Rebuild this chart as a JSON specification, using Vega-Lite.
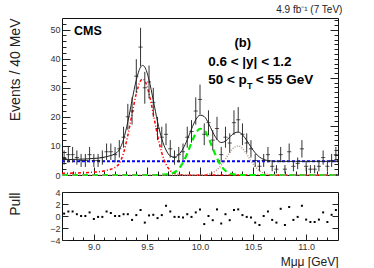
{
  "$schema": "https://vega.github.io/schema/vega-lite/v6.json",
  "background": "white",
  "padding": {"left": 7, "top": 4, "right": 5, "bottom": 0},
  "spacing": 6,
  "config": {
    "view": {"stroke": "#111", "strokeWidth": 1},
    "font": "Liberation Sans",
    "axis": {"domain": false, "grid": false, "labelFont": "Liberation Sans", "labelFontSize": 9, "labelColor": "#333", "tickColor": "#222", "titleFont": "Liberation Sans", "titleFontWeight": "normal", "titleColor": "#222"}
  },
  "datasets": {
    "bins": [
      {"m": 8.72, "n": 6, "err": 2.45, "pull": 0.4},
      {"m": 8.76, "n": 7, "err": 2.65, "pull": 0.75},
      {"m": 8.80, "n": 7, "err": 2.65, "pull": 0.75},
      {"m": 8.84, "n": 6, "err": 2.45, "pull": 0.3},
      {"m": 8.88, "n": 5, "err": 2.24, "pull": 0},
      {"m": 8.92, "n": 5, "err": 2.24, "pull": 0},
      {"m": 8.96, "n": 7, "err": 2.65, "pull": 0.6},
      {"m": 9.00, "n": 5, "err": 2.24, "pull": -0.5},
      {"m": 9.04, "n": 5, "err": 2.24, "pull": -0.15},
      {"m": 9.08, "n": 6, "err": 2.45, "pull": -0.15},
      {"m": 9.12, "n": 8, "err": 2.83, "pull": 0.75},
      {"m": 9.16, "n": 8, "err": 2.83, "pull": 0.5},
      {"m": 9.20, "n": 7, "err": 2.65, "pull": 0},
      {"m": 9.24, "n": 9, "err": 3.0, "pull": 0},
      {"m": 9.28, "n": 13, "err": 3.61, "pull": 0.3},
      {"m": 9.32, "n": 20, "err": 4.47, "pull": 0.3},
      {"m": 9.36, "n": 22, "err": 4.69, "pull": -0.65},
      {"m": 9.40, "n": 34, "err": 5.83, "pull": 0.15},
      {"m": 9.44, "n": 44, "err": 6.63, "pull": 1.0},
      {"m": 9.48, "n": 30, "err": 5.48, "pull": -1.1},
      {"m": 9.52, "n": 32, "err": 5.66, "pull": 0.1},
      {"m": 9.56, "n": 25, "err": 5.0, "pull": 0.2},
      {"m": 9.60, "n": 16, "err": 4.0, "pull": -0.35},
      {"m": 9.64, "n": 13, "err": 3.61, "pull": 0.15},
      {"m": 9.68, "n": 14, "err": 3.74, "pull": 1.7},
      {"m": 9.72, "n": 9, "err": 3.0, "pull": 0.75},
      {"m": 9.76, "n": 6, "err": 2.45, "pull": -0.15},
      {"m": 9.80, "n": 7, "err": 2.65, "pull": -0.15},
      {"m": 9.84, "n": 8, "err": 2.83, "pull": -0.25},
      {"m": 9.88, "n": 13, "err": 3.61, "pull": 0.3},
      {"m": 9.92, "n": 15, "err": 3.87, "pull": -0.15},
      {"m": 9.96, "n": 22, "err": 4.69, "pull": 0.6},
      {"m": 10.00, "n": 26, "err": 5.10, "pull": 1.1},
      {"m": 10.04, "n": 14, "err": 3.74, "pull": -1.35},
      {"m": 10.08, "n": 18, "err": 4.24, "pull": 0},
      {"m": 10.12, "n": 12, "err": 3.46, "pull": -0.7},
      {"m": 10.16, "n": 16, "err": 4.0, "pull": 1.1},
      {"m": 10.20, "n": 7, "err": 2.65, "pull": -1.25},
      {"m": 10.24, "n": 13, "err": 3.61, "pull": 0.3},
      {"m": 10.28, "n": 11, "err": 3.32, "pull": -0.7},
      {"m": 10.32, "n": 18, "err": 4.24, "pull": 1.0},
      {"m": 10.36, "n": 19, "err": 4.36, "pull": 1.1},
      {"m": 10.40, "n": 14, "err": 3.74, "pull": 0.15},
      {"m": 10.44, "n": 11, "err": 3.32, "pull": -0.15},
      {"m": 10.48, "n": 9, "err": 3.0, "pull": -0.25},
      {"m": 10.52, "n": 5, "err": 2.24, "pull": -1.1},
      {"m": 10.56, "n": 3, "err": 1.73, "pull": -1.5},
      {"m": 10.60, "n": 5, "err": 2.24, "pull": 0},
      {"m": 10.64, "n": 7, "err": 2.65, "pull": 0.75},
      {"m": 10.68, "n": 3, "err": 1.73, "pull": -0.65},
      {"m": 10.72, "n": 2, "err": 1.41, "pull": -1.1},
      {"m": 10.76, "n": 7, "err": 2.65, "pull": 1.2},
      {"m": 10.80, "n": 2, "err": 1.41, "pull": -1.5},
      {"m": 10.84, "n": 8, "err": 2.83, "pull": 1.5},
      {"m": 10.88, "n": 3, "err": 1.73, "pull": -0.65},
      {"m": 10.92, "n": 4, "err": 2.0, "pull": -0.15},
      {"m": 10.96, "n": 9, "err": 3.0, "pull": 1.7},
      {"m": 11.00, "n": 3, "err": 1.73, "pull": -0.6},
      {"m": 11.04, "n": 2, "err": 1.41, "pull": -1.0},
      {"m": 11.08, "n": 2, "err": 1.41, "pull": -1.0},
      {"m": 11.12, "n": 3, "err": 1.73, "pull": -0.6},
      {"m": 11.16, "n": 6, "err": 2.45, "pull": 0.6},
      {"m": 11.20, "n": 3, "err": 1.73, "pull": -1.0},
      {"m": 11.24, "n": 5, "err": 2.24, "pull": 0.2},
      {"m": 11.28, "n": 7, "err": 2.65, "pull": 1.0}
    ],
    "curves": [
      {"m": 8.70, "bkg": 4.7, "y1": 0.6, "y2": 0, "y3": 0, "tot": 5.3},
      {"m": 8.76, "bkg": 4.7, "y1": 0.6, "y2": 0, "y3": 0, "tot": 5.3},
      {"m": 8.80, "bkg": 4.7, "y1": 0.65, "y2": 0, "y3": 0, "tot": 5.35},
      {"m": 8.84, "bkg": 4.7, "y1": 0.7, "y2": 0, "y3": 0, "tot": 5.4},
      {"m": 8.88, "bkg": 4.7, "y1": 0.75, "y2": 0, "y3": 0, "tot": 5.45},
      {"m": 8.92, "bkg": 4.7, "y1": 0.8, "y2": 0, "y3": 0, "tot": 5.5},
      {"m": 8.96, "bkg": 4.7, "y1": 0.9, "y2": 0, "y3": 0, "tot": 5.6},
      {"m": 9.00, "bkg": 4.7, "y1": 1.0, "y2": 0, "y3": 0, "tot": 5.7},
      {"m": 9.04, "bkg": 4.7, "y1": 1.1, "y2": 0, "y3": 0, "tot": 5.8},
      {"m": 9.08, "bkg": 4.7, "y1": 1.3, "y2": 0, "y3": 0, "tot": 6.0},
      {"m": 9.12, "bkg": 4.7, "y1": 1.6, "y2": 0, "y3": 0, "tot": 6.3},
      {"m": 9.16, "bkg": 4.7, "y1": 2.0, "y2": 0, "y3": 0, "tot": 6.7},
      {"m": 9.20, "bkg": 4.7, "y1": 2.6, "y2": 0, "y3": 0, "tot": 7.3},
      {"m": 9.24, "bkg": 4.7, "y1": 4.0, "y2": 0, "y3": 0, "tot": 8.7},
      {"m": 9.28, "bkg": 4.7, "y1": 7.6, "y2": 0, "y3": 0, "tot": 12.3},
      {"m": 9.32, "bkg": 4.7, "y1": 13.6, "y2": 0, "y3": 0, "tot": 18.3},
      {"m": 9.36, "bkg": 4.7, "y1": 21.0, "y2": 0, "y3": 0, "tot": 25.7},
      {"m": 9.40, "bkg": 4.7, "y1": 28.0, "y2": 0, "y3": 0, "tot": 32.7},
      {"m": 9.44, "bkg": 4.7, "y1": 32.4, "y2": 0, "y3": 0, "tot": 37.1},
      {"m": 9.46, "bkg": 4.7, "y1": 33.0, "y2": 0, "y3": 0, "tot": 37.7},
      {"m": 9.48, "bkg": 4.7, "y1": 32.4, "y2": 0, "y3": 0, "tot": 37.1},
      {"m": 9.52, "bkg": 4.7, "y1": 28.0, "y2": 0, "y3": 0, "tot": 32.7},
      {"m": 9.56, "bkg": 4.7, "y1": 21.0, "y2": 0, "y3": 0, "tot": 25.7},
      {"m": 9.60, "bkg": 4.7, "y1": 13.6, "y2": 0, "y3": 0, "tot": 18.3},
      {"m": 9.64, "bkg": 4.7, "y1": 7.6, "y2": 0.12, "y3": 0, "tot": 12.42},
      {"m": 9.68, "bkg": 4.7, "y1": 3.7, "y2": 0.2, "y3": 0, "tot": 8.6},
      {"m": 9.72, "bkg": 4.7, "y1": 1.5, "y2": 0.35, "y3": 0, "tot": 6.55},
      {"m": 9.76, "bkg": 4.7, "y1": 0.56, "y2": 0.94, "y3": 0, "tot": 6.2},
      {"m": 9.80, "bkg": 4.7, "y1": 0.17, "y2": 2.17, "y3": 0, "tot": 7.04},
      {"m": 9.84, "bkg": 4.7, "y1": 0.04, "y2": 4.3, "y3": 0, "tot": 9.04},
      {"m": 9.88, "bkg": 4.7, "y1": 0, "y2": 7.4, "y3": 0, "tot": 12.1},
      {"m": 9.92, "bkg": 4.7, "y1": 0, "y2": 11.1, "y3": 0, "tot": 15.8},
      {"m": 9.96, "bkg": 4.7, "y1": 0, "y2": 14.3, "y3": 0, "tot": 19.0},
      {"m": 10.00, "bkg": 4.7, "y1": 0, "y2": 15.9, "y3": 0, "tot": 20.6},
      {"m": 10.04, "bkg": 4.7, "y1": 0, "y2": 15.4, "y3": 0, "tot": 20.1},
      {"m": 10.08, "bkg": 4.7, "y1": 0, "y2": 12.8, "y3": 0.32, "tot": 17.82},
      {"m": 10.12, "bkg": 4.7, "y1": 0, "y2": 9.2, "y3": 0.82, "tot": 14.72},
      {"m": 10.16, "bkg": 4.7, "y1": 0, "y2": 5.8, "y3": 1.78, "tot": 12.28},
      {"m": 10.20, "bkg": 4.7, "y1": 0, "y2": 3.1, "y3": 3.36, "tot": 11.16},
      {"m": 10.24, "bkg": 4.7, "y1": 0, "y2": 1.45, "y3": 5.49, "tot": 11.64},
      {"m": 10.28, "bkg": 4.7, "y1": 0, "y2": 0.59, "y3": 7.75, "tot": 13.04},
      {"m": 10.32, "bkg": 4.7, "y1": 0, "y2": 0.2, "y3": 9.46, "tot": 14.36},
      {"m": 10.36, "bkg": 4.7, "y1": 0, "y2": 0.06, "y3": 10.0, "tot": 14.76},
      {"m": 10.40, "bkg": 4.7, "y1": 0, "y2": 0, "y3": 9.12, "tot": 13.82},
      {"m": 10.44, "bkg": 4.7, "y1": 0, "y2": 0, "y3": 7.2, "tot": 11.9},
      {"m": 10.48, "bkg": 4.7, "y1": 0, "y2": 0, "y3": 4.92, "tot": 9.62},
      {"m": 10.52, "bkg": 4.7, "y1": 0, "y2": 0, "y3": 2.91, "tot": 7.61},
      {"m": 10.56, "bkg": 4.7, "y1": 0, "y2": 0, "y3": 1.49, "tot": 6.19},
      {"m": 10.60, "bkg": 4.7, "y1": 0, "y2": 0, "y3": 0.66, "tot": 5.36},
      {"m": 10.64, "bkg": 4.7, "y1": 0, "y2": 0, "y3": 0.25, "tot": 4.95},
      {"m": 10.68, "bkg": 4.7, "y1": 0, "y2": 0, "y3": 0.08, "tot": 4.78},
      {"m": 10.72, "bkg": 4.7, "y1": 0, "y2": 0, "y3": 0, "tot": 4.7},
      {"m": 10.90, "bkg": 4.7, "y1": 0, "y2": 0, "y3": 0, "tot": 4.7},
      {"m": 11.10, "bkg": 4.7, "y1": 0, "y2": 0, "y3": 0, "tot": 4.7},
      {"m": 11.30, "bkg": 4.7, "y1": 0, "y2": 0, "y3": 0, "tot": 4.7}
    ]
  },
  "vconcat": [
    {
      "width": 276,
      "height": 157,
      "title": {"text": "4.9 fb\u207b\u00b9 (7 TeV)", "anchor": "end", "fontSize": 10, "fontWeight": "normal", "font": "Liberation Sans", "color": "#222", "offset": 3},
      "layer": [
        {
          "data": {"name": "curves"},
          "mark": {"type": "line", "color": "#0000ff", "strokeWidth": 2, "strokeDash": [3, 2]},
          "encoding": {
            "x": {"field": "m", "type": "quantitative", "scale": {"domain": [8.7, 11.3], "nice": false, "zero": false},
                  "axis": {"orient": "bottom", "values": [9, 9.5, 10, 10.5, 11], "tickSize": -8, "labels": false, "title": null}},
            "y": {"field": "bkg", "type": "quantitative", "scale": {"domain": [0, 54], "nice": false, "zero": false},
                  "axis": {"orient": "left", "values": [0, 10, 20, 30, 40, 50], "tickSize": -8, "labelPadding": 10, "title": "Events / 40 MeV", "titleAnchor": "end", "titleFontSize": 14, "titlePadding": 10, "minExtent": 30, "maxExtent": 30}}
          }
        },
        {
          "data": {"name": "curves"},
          "mark": {"type": "line", "color": "#ff0000", "strokeWidth": 1.5, "strokeDash": [3, 2, 1, 2], "interpolate": "monotone"},
          "encoding": {
            "x": {"field": "m", "type": "quantitative",
                  "axis": {"orient": "bottom", "values": [8.8, 8.9, 9.1, 9.2, 9.3, 9.4, 9.6, 9.7, 9.8, 9.9, 10.1, 10.2, 10.3, 10.4, 10.6, 10.7, 10.8, 10.9, 11.1, 11.2], "tickSize": -4, "labels": false, "title": null}},
            "y": {"field": "y1", "type": "quantitative",
                  "axis": {"orient": "right", "values": [0.4, 16.9, 33.4, 49.9], "tickSize": -8, "labels": false, "title": null}}
          }
        },
        {
          "data": {"name": "curves"},
          "mark": {"type": "line", "color": "#00ee00", "strokeWidth": 2.2, "strokeDash": [6, 4], "interpolate": "monotone"},
          "encoding": {
            "x": {"field": "m", "type": "quantitative", "axis": null},
            "y": {"field": "y2", "type": "quantitative",
                  "axis": {"orient": "left", "values": [2, 4, 6, 8, 12, 14, 16, 18, 22, 24, 26, 28, 32, 34, 36, 38, 42, 44, 46, 48, 52], "tickSize": -4, "labels": false, "title": null, "minExtent": 30, "maxExtent": 30}}
          }
        },
        {
          "data": {"name": "curves"},
          "mark": {"type": "line", "color": "#b89080", "strokeWidth": 1.5, "strokeDash": [1, 1.5], "interpolate": "monotone"},
          "encoding": {
            "x": {"field": "m", "type": "quantitative", "axis": null},
            "y": {"field": "y3", "type": "quantitative",
                  "axis": {"orient": "right", "values": [2.05, 3.7, 5.35, 7.0, 8.65, 10.3, 11.95, 13.6, 15.25, 18.55, 20.2, 21.85, 23.5, 25.15, 26.8, 28.45, 30.1, 31.75, 35.05, 36.7, 38.35, 40.0, 41.65, 43.3, 44.95, 46.6, 48.25, 51.55, 53.2], "tickSize": -4, "labels": false, "title": null}}
          }
        },
        {
          "data": {"name": "bins"},
          "mark": {"type": "errorbar", "color": "#333", "thickness": 1},
          "encoding": {
            "x": {"field": "m", "type": "quantitative", "axis": null},
            "y": {"field": "n", "type": "quantitative", "axis": null},
            "yError": {"field": "err"}
          }
        },
        {
          "data": {"name": "bins"},
          "mark": {"type": "tick", "orient": "horizontal", "size": 4.2, "thickness": 1, "color": "#111"},
          "encoding": {
            "x": {"field": "m", "type": "quantitative", "axis": null},
            "y": {"field": "n", "type": "quantitative", "axis": null}
          }
        },
        {
          "data": {"name": "curves"},
          "mark": {"type": "line", "color": "#222", "strokeWidth": 1, "interpolate": "monotone"},
          "encoding": {
            "x": {"field": "m", "type": "quantitative", "axis": null},
            "y": {"field": "tot", "type": "quantitative", "axis": null}
          }
        },
        {
          "data": {"values": [{}]},
          "mark": {"type": "text", "text": "CMS", "font": "Liberation Sans", "fontSize": 12.5, "fontWeight": "bold", "align": "left", "baseline": "middle", "color": "#000"},
          "encoding": {"x": {"datum": 8.813, "type": "quantitative", "axis": null}, "y": {"datum": 49.7, "type": "quantitative", "axis": null}}
        },
        {
          "data": {"values": [{}]},
          "mark": {"type": "text", "text": "(b)", "font": "Liberation Sans", "fontSize": 13, "fontWeight": "bold", "align": "center", "baseline": "middle", "color": "#000"},
          "encoding": {"x": {"datum": 10.403, "type": "quantitative", "axis": null}, "y": {"datum": 45.5, "type": "quantitative", "axis": null}}
        },
        {
          "data": {"values": [{}]},
          "mark": {"type": "text", "text": "0.6 < |y| < 1.2", "font": "Liberation Sans", "fontSize": 13.5, "fontWeight": "bold", "align": "left", "baseline": "middle", "color": "#000"},
          "encoding": {"x": {"datum": 10.077, "type": "quantitative", "axis": null}, "y": {"datum": 39.0, "type": "quantitative", "axis": null}}
        },
        {
          "data": {"values": [{}]},
          "mark": {"type": "text", "text": "50 < p", "font": "Liberation Sans", "fontSize": 13.5, "fontWeight": "bold", "align": "left", "baseline": "middle", "color": "#000"},
          "encoding": {"x": {"datum": 10.077, "type": "quantitative", "axis": null}, "y": {"datum": 32.8, "type": "quantitative", "axis": null}}
        },
        {
          "data": {"values": [{}]},
          "mark": {"type": "text", "text": "T", "font": "Liberation Sans", "fontSize": 9, "fontWeight": "bold", "align": "left", "baseline": "middle", "color": "#000"},
          "encoding": {"x": {"datum": 10.443, "type": "quantitative", "axis": null}, "y": {"datum": 30.6, "type": "quantitative", "axis": null}}
        },
        {
          "data": {"values": [{}]},
          "mark": {"type": "text", "text": "< 55 GeV", "font": "Liberation Sans", "fontSize": 13.5, "fontWeight": "bold", "align": "left", "baseline": "middle", "color": "#000"},
          "encoding": {"x": {"datum": 10.525, "type": "quantitative", "axis": null}, "y": {"datum": 32.8, "type": "quantitative", "axis": null}}
        }
      ],
      "resolve": {"axis": {"x": "independent", "y": "independent"}}
    },
    {
      "width": 276,
      "height": 48,
      "data": {"name": "bins"},
      "layer": [
        {
          "mark": {"type": "square", "size": 4, "color": "#000", "opacity": 1},
          "encoding": {
            "x": {"field": "m", "type": "quantitative", "scale": {"domain": [8.7, 11.3], "nice": false, "zero": false},
                  "axis": {"orient": "bottom", "values": [9, 9.5, 10, 10.5, 11], "tickSize": -6, "labelPadding": 8, "title": "M\u03bc\u03bc [GeV]", "titleAnchor": "end", "titleFontSize": 12, "titlePadding": 5}},
            "y": {"field": "pull", "type": "quantitative", "scale": {"domain": [-4, 4], "nice": false, "zero": false},
                  "axis": {"orient": "left", "values": [-4, -2, 0, 2, 4], "tickSize": -6, "labelPadding": 8, "title": "Pull", "titleAnchor": "end", "titleFontSize": 14, "titlePadding": 10, "minExtent": 30, "maxExtent": 30}}
          }
        },
        {
          "mark": {"type": "point", "opacity": 0},
          "encoding": {
            "x": {"field": "m", "type": "quantitative",
                  "axis": {"orient": "bottom", "values": [8.8, 8.9, 9.1, 9.2, 9.3, 9.4, 9.6, 9.7, 9.8, 9.9, 10.1, 10.2, 10.3, 10.4, 10.6, 10.7, 10.8, 10.9, 11.1, 11.2], "tickSize": -3, "labels": false, "title": null}},
            "y": {"field": "pull", "type": "quantitative",
                  "axis": {"orient": "right", "values": [-2, 0, 2], "tickSize": -6, "labels": false, "title": null}}
          }
        }
      ],
      "resolve": {"axis": {"x": "independent", "y": "independent"}}
    }
  ]
}
